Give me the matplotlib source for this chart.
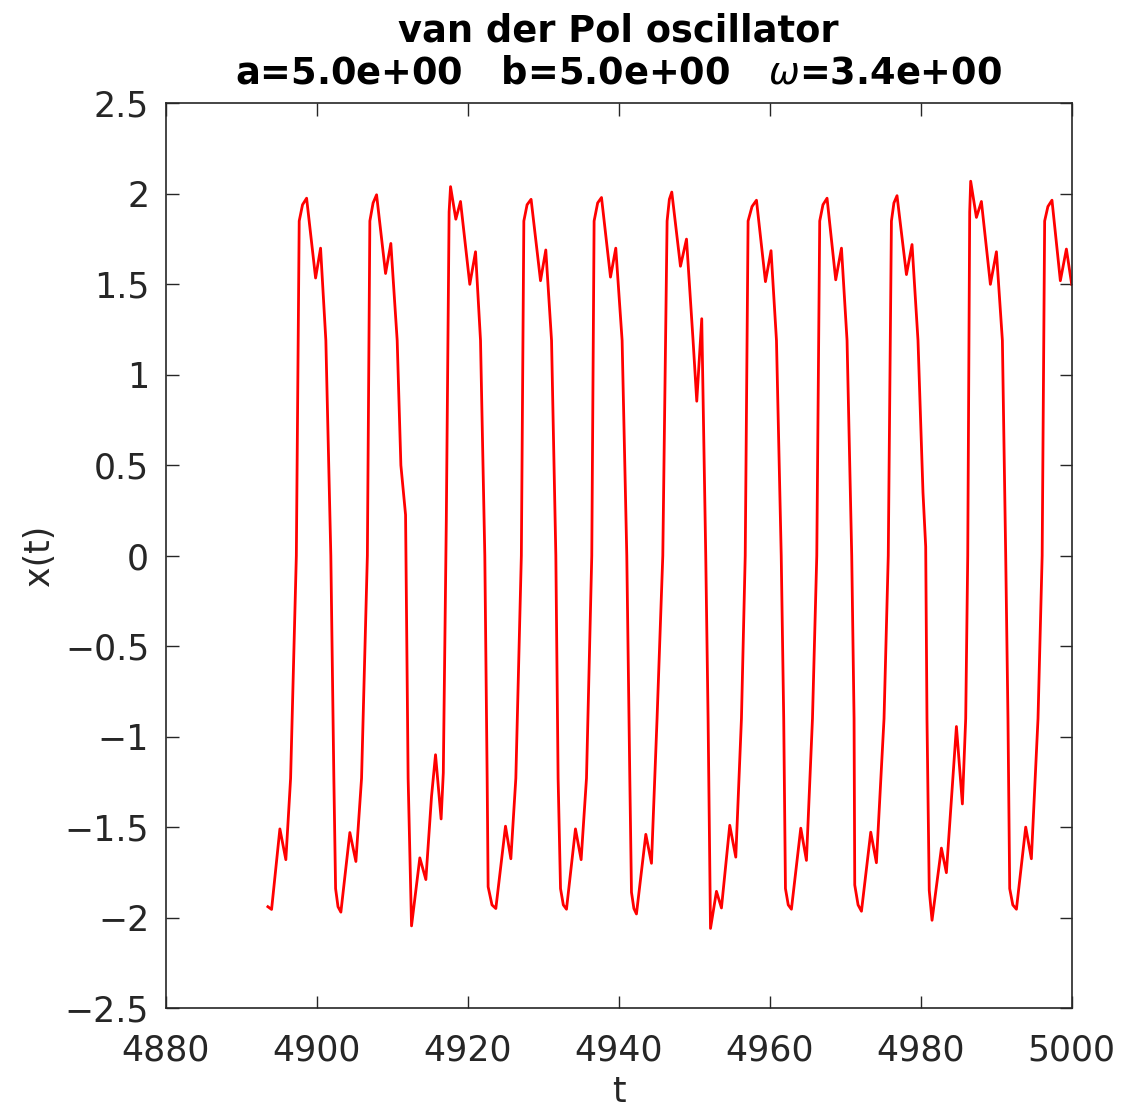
import numpy as np
import matplotlib
matplotlib.use("Agg")
import matplotlib.pyplot as plt
from matplotlib.ticker import FuncFormatter

# values (t, x(t))
t_vals = [
    4893.51, 4894.00, 4895.10, 4895.89, 4896.52, 4897.28, 4897.66, 4898.10, 4898.64,
    4899.83, 4900.49, 4901.19, 4901.85, 4902.25, 4902.48, 4902.80, 4903.18, 4904.37,
    4905.17, 4905.92, 4906.69, 4907.02, 4907.45, 4907.91, 4909.10, 4909.80, 4910.64,
    4911.13, 4911.75, 4912.09, 4912.54, 4913.64, 4914.44, 4915.19, 4915.72, 4916.46,
    4916.75, 4917.15, 4917.52, 4917.71, 4918.41, 4919.03, 4920.26, 4921.02, 4921.68,
    4922.25, 4922.56, 4922.69, 4923.20, 4923.71, 4924.99, 4925.70, 4926.36, 4927.09,
    4927.42, 4927.85, 4928.38, 4929.63, 4930.33, 4931.09, 4931.66, 4931.96, 4932.28,
    4932.65, 4933.07, 4934.26, 4935.01, 4935.72, 4936.42, 4936.73, 4937.20, 4937.71,
    4938.90, 4939.60, 4940.44, 4941.06, 4941.46, 4941.68, 4942.00, 4942.34, 4943.58,
    4944.33, 4945.07, 4945.83, 4946.40, 4946.70, 4947.02, 4948.17, 4948.97, 4949.84,
    4950.33, 4950.99, 4951.52, 4951.83, 4952.15, 4952.94, 4953.60, 4954.70, 4955.50,
    4956.25, 4956.75, 4957.13, 4957.65, 4958.24, 4959.43, 4960.17, 4960.89, 4961.52,
    4961.85, 4962.08, 4962.45, 4962.87, 4964.11, 4964.86, 4965.66, 4966.23, 4966.62,
    4967.05, 4967.59, 4968.74, 4969.50, 4970.24, 4970.86, 4971.17, 4971.26, 4971.70,
    4972.15, 4973.38, 4974.13, 4975.14, 4975.70, 4976.12, 4976.45, 4976.86, 4978.11,
    4978.85, 4979.64, 4980.30, 4980.66, 4980.83, 4981.13, 4981.50, 4982.74, 4983.40,
    4984.73, 4985.52, 4985.96, 4986.23, 4986.49, 4986.62, 4987.38, 4988.04, 4989.23,
    4990.03, 4990.82, 4991.26, 4991.56, 4991.79, 4992.20, 4992.68, 4993.91, 4994.66,
    4995.54, 4996.09, 4996.42, 4996.85, 4997.39, 4998.50, 4999.30, 5000.00,
]
x_vals = [
    -1.94, -1.955, -1.51, -1.68, -1.23, 0.0, 1.85, 1.94, 1.976,
    1.535, 1.70, 1.19, 0.0, -1.23, -1.84, -1.94, -1.97, -1.53,
    -1.69, -1.23, 0.0, 1.85, 1.95, 1.995, 1.56, 1.726, 1.19,
    0.50, 0.226, -1.23, -2.046, -1.67, -1.79, -1.33, -1.10, -1.455,
    -1.20, 0.20, 1.90, 2.04, 1.86, 1.958, 1.50, 1.68, 1.19,
    0.0, -1.23, -1.83, -1.93, -1.95, -1.495, -1.675, -1.23, 0.0,
    1.85, 1.94, 1.97, 1.52, 1.69, 1.19, 0.0, -1.23, -1.84,
    -1.93, -1.954, -1.51, -1.68, -1.23, 0.0, 1.85, 1.95, 1.98,
    1.54, 1.70, 1.19, 0.0, -1.23, -1.86, -1.95, -1.98, -1.54,
    -1.70, -0.90, 0.0, 1.85, 1.97, 2.01, 1.60, 1.75, 1.19,
    0.854, 1.31, 0.0, -0.90, -2.06, -1.855, -1.947, -1.49, -1.666,
    -0.90, 0.0, 1.85, 1.93, 1.965, 1.515, 1.686, 1.19, 0.0,
    -0.90, -1.84, -1.93, -1.954, -1.506, -1.684, -0.90, 0.0, 1.85,
    1.94, 1.976, 1.525, 1.70, 1.19, 0.0, -0.90, -1.82, -1.93,
    -1.965, -1.528, -1.697, -0.90, 0.0, 1.85, 1.95, 1.99, 1.554,
    1.72, 1.19, 0.35, 0.05, -0.90, -1.85, -2.015, -1.616, -1.752,
    -0.944, -1.372, -0.90, 0.0, 1.90, 2.07, 1.87, 1.958, 1.50,
    1.68, 1.19, 0.0, -0.90, -1.84, -1.93, -1.954, -1.50, -1.675,
    -0.90, 0.0, 1.85, 1.93, 1.965, 1.52, 1.695, 1.50,
]

a_par = 5.0
b_par = 5.0
omega = 3.4

x_ticks = [4880, 4900, 4920, 4940, 4960, 4980, 5000]
y_ticks = [-2.5, -2, -1.5, -1, -0.5, 0, 0.5, 1, 1.5, 2, 2.5]

GREY = "#262626"
plt.rcParams["font.family"] = ["DejaVu Sans"]
plt.rcParams["mathtext.fontset"] = "dejavusans"


def main():
    fig = plt.figure(figsize=(11.21, 11.12), dpi=100)
    ax = fig.add_axes([0.148, 0.0935, 0.808, 0.8135])

    ax.plot(t_vals, x_vals, color="red", lw=2.0)

    ax.set_xlim(4880, 5000)
    ax.set_ylim(-2.5, 2.5)
    ax.set_xticks(x_ticks)
    ax.set_yticks(y_ticks)
    ax.yaxis.set_major_formatter(
        FuncFormatter(lambda v, p: ("%g" % v).replace("-", "\u2212")))

    ax.tick_params(direction="in", length=9, width=1.0, top=True, right=True,
                   labelsize=25, colors=GREY)
    ax.tick_params(axis="x", pad=18)
    ax.tick_params(axis="y", pad=12)
    for sp in ax.spines.values():
        sp.set_color(GREY)
        sp.set_linewidth(1.2)

    ax.set_xlabel("t", fontsize=25, color=GREY, labelpad=6)
    ax.set_ylabel("x(t)", fontsize=25, color=GREY, labelpad=6)
    title = ("van der Pol oscillator\n"
             "a=%.1e   b=%.1e   $\\omega$=%.1e" % (a_par, b_par, omega))
    ax.set_title(title, fontsize=26.5, fontweight="bold", color="black",
                 linespacing=1.2, pad=14)

    fig.savefig("out.png", dpi=100)


if __name__ == "__main__":
    main()
